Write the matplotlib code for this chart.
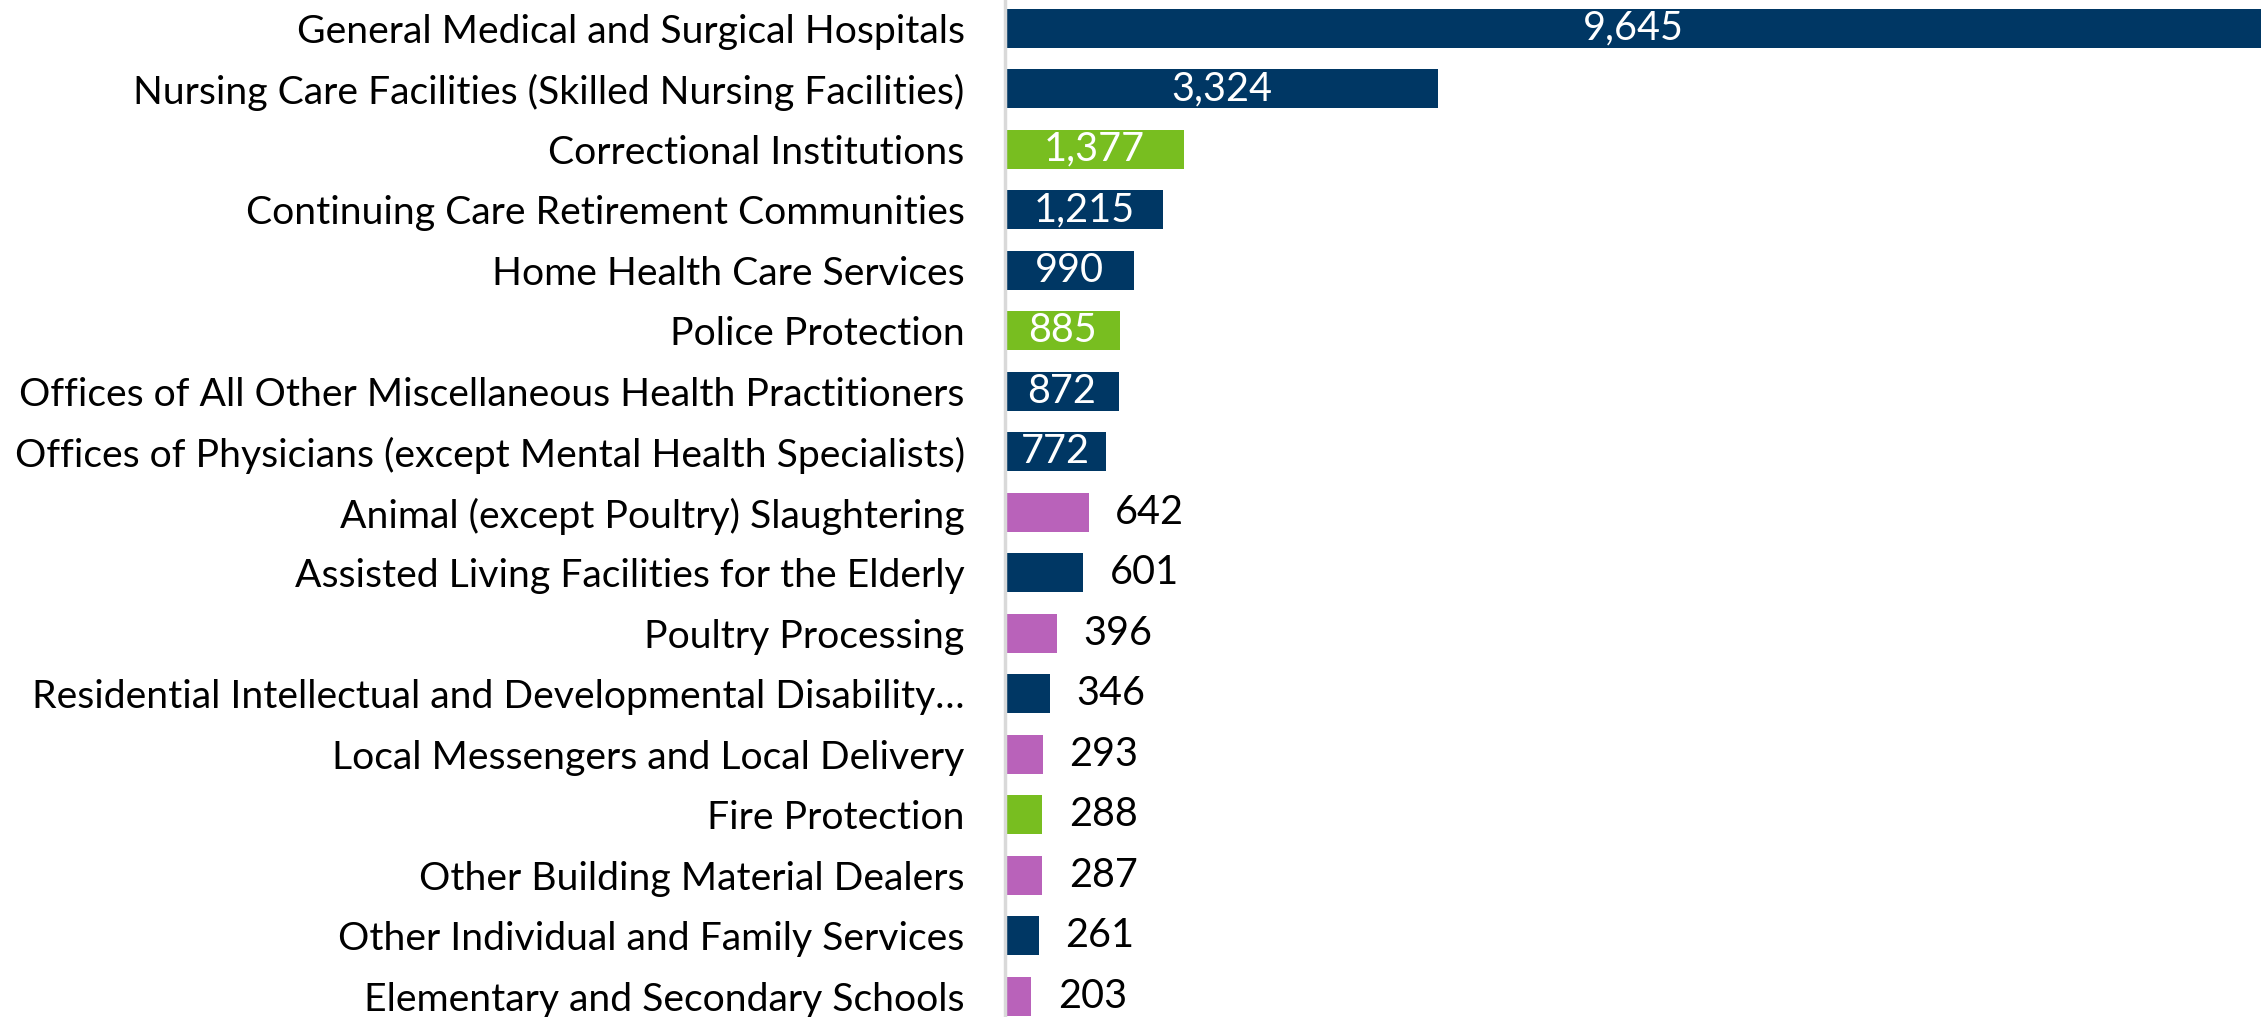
import matplotlib
matplotlib.use("Agg")
import matplotlib.pyplot as plt

categories = [
    "General Medical and Surgical Hospitals",
    "Nursing Care Facilities (Skilled Nursing Facilities)",
    "Correctional Institutions",
    "Continuing Care Retirement Communities",
    "Home Health Care Services",
    "Police Protection",
    "Offices of All Other Miscellaneous Health Practitioners",
    "Offices of Physicians (except Mental Health Specialists)",
    "Animal (except Poultry) Slaughtering",
    "Assisted Living Facilities for the Elderly",
    "Poultry Processing",
    "Residential Intellectual and Developmental Disability\u2026",
    "Local Messengers and Local Delivery",
    "Fire Protection",
    "Other Building Material Dealers",
    "Other Individual and Family Services",
    "Elementary and Secondary Schools",
]
values = [9645, 3324, 1377, 1215, 990, 885, 872, 772, 642, 601, 396, 346, 293, 288, 287, 261, 203]
groups = ["health", "health", "public", "health", "health", "public", "health", "health",
          "other", "health", "other", "health", "other", "public", "other", "health", "other"]
inside = [True] * 8 + [False] * 9

group_colors = {"health": "#003764", "public": "#78BE20", "other": "#B962BA"}

plt.rcParams['font.family'] = ['Lato', 'DejaVu Sans']

fig = plt.figure(figsize=(22.67, 10.17), dpi=100)
ax = fig.add_axes([1005 / 2267, 0.0, 1 - 1005 / 2267, 1.0])

ypos = list(range(len(categories)))
colors = [group_colors[g] for g in groups]
bars = ax.barh(ypos, values, height=0.645, color=colors)

ax.set_xlim(0, 9693)
ax.set_ylim(16.34, -0.47)
ax.set_yticks(ypos)
ax.set_yticklabels(categories, fontsize=28.2)
ax.tick_params(axis='y', length=0, pad=29)
ax.set_xticks([])
for s in ["top", "right", "bottom"]:
    ax.spines[s].set_visible(False)
ax.spines["left"].set_color("#d9d9d9")
ax.spines["left"].set_linewidth(2.5)

for y, v, ins in zip(ypos, values, inside):
    txt = f"{v:,}"
    if ins:
        ax.text(v / 2, y, txt, ha="center", va="center", color="white", fontsize=28.5)
    else:
        ax.annotate(txt, (v, y), xytext=(19, 0), textcoords="offset points",
                    ha="left", va="center", color="black", fontsize=28.5)

fig.savefig("out.png", dpi=100)
